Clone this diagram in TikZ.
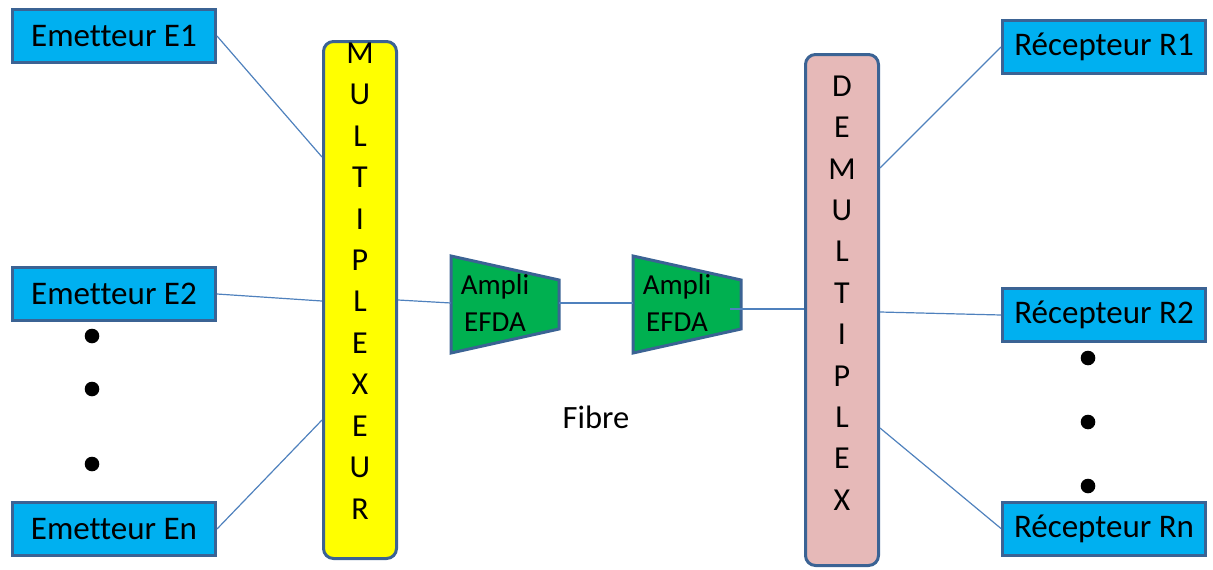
\documentclass[tikz,border=0pt]{standalone}
\usepackage{fontspec}
\setmainfont{Carlito}[Ligatures=NoCommon]
\definecolor{boxblue}{HTML}{00B0F0}
\definecolor{edgeblue}{HTML}{3B6394}
\definecolor{wireblue}{HTML}{4F81BD}
\definecolor{muxyellow}{HTML}{FFFF00}
\definecolor{ampgreen}{HTML}{00B050}
\definecolor{demuxpink}{HTML}{E6B9B8}
\tikzset{
  box/.style={draw=edgeblue, line width=3pt, fill=boxblue, minimum width=203pt,
    minimum height=53pt, inner sep=0pt, font=\fontsize{33}{36}\selectfont},
  muxbox/.style={draw=edgeblue, line width=3pt, rounded corners=10pt,
    minimum width=73pt, inner sep=0pt},
  letter/.style={inner sep=0pt, font=\fontsize{32}{36}\selectfont},
  amp/.style={draw=edgeblue, line width=3pt, fill=ampgreen, line join=miter},
  amptext/.style={inner sep=0pt, align=center, font=\fontsize{29}{37}\selectfont},
  wire/.style={draw=wireblue, line width=1.2pt}
}
\begin{document}
\begin{tikzpicture}[x=1pt,y=-1pt]
    \useasboundingbox (0,0) rectangle (1213,570);
    % emetteurs
    \node[box] (e1) at (114,36) {Emetteur E1};
    \node[box] (e2) at (114,294) {Emetteur E2};
    \node[box] (en) at (114,529) {Emetteur En};
    \fill (92,336) circle[radius=7.3pt];
    \fill (92,389) circle[radius=7.3pt];
    \fill (92,464) circle[radius=7.3pt];
    % multiplexeur
    \node[muxbox, fill=muxyellow, minimum height=517pt] (mux) at (360,300) {};
    \foreach \l [count=\i from 0] in {M,U,L,T,I,P,L,E,X,E,U,R}
        \node[letter] (mx\i) at (360,53+41.45*\i) {\l};
    \coordinate (m1) at (322,157);
    \coordinate (m2) at (322,301);
    \coordinate (m3) at (322,420);
    \coordinate (m4) at (398,300);
    % amplis
    \draw[amp] (451,256) -- (559,280) -- (559,329) -- (451,353) -- cycle;
    \draw[amp] (633,256) -- (741,280) -- (741,329) -- (633,353) -- cycle;
    \node[amptext] (amp1) at (495,303) {Ampli\\EFDA};
    \node[amptext] (amp2) at (677,303) {Ampli\\EFDA};
    \coordinate (a1in) at (451,303);
    \coordinate (a1out) at (559,303);
    \coordinate (a2in) at (633,303);
    \coordinate (a2out) at (730,309);
    \node[letter, font=\fontsize{32.5}{36}\selectfont] (fib) at (596,417) {Fibre};
    % demultiplexeur
    \node[muxbox, fill=demuxpink, minimum height=511pt] (demux) at (842,310) {};
    \foreach \l [count=\i from 0] in {D,E,M,U,L,T,I,P,L,E,X}
        \node[letter] (dx\i) at (842,86+41.4*\i) {\l};
    \coordinate (d0) at (804,309);
    \coordinate (d1) at (880,168);
    \coordinate (d2) at (880,312);
    \coordinate (d3) at (880,428);
    % recepteurs
    \node[box] (r1) at (1104,47) {Récepteur R1};
    \node[box] (r2) at (1104,315) {Récepteur R2};
    \node[box] (rn) at (1104,528.5) {Récepteur Rn};
    \fill (1088,358) circle[radius=7.3pt];
    \fill (1088,422) circle[radius=7.3pt];
    \fill (1088,486) circle[radius=7.3pt];
    % liaisons
    \draw[wire] (e1.east) -- (m1);
    \draw[wire] (e2.east) -- (m2);
    \draw[wire] (en.east) -- (m3);
    \draw[wire] (m4) -- (a1in);
    \draw[wire] (a1out) -- (a2in);
    \draw[wire] (a2out) -- (d0);
    \draw[wire] (d1) -- (r1.west);
    \draw[wire] (d2) -- (r2.west);
    \draw[wire] (d3) -- (rn.west);
\end{tikzpicture}
\end{document}
